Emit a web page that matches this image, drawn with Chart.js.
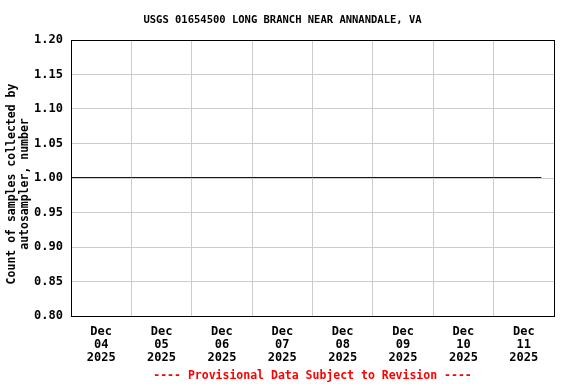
<!DOCTYPE html>
<html>
<head>
<meta charset="utf-8">
<script src="https://cdn.jsdelivr.net/npm/chart.js@4"></script>
<style>
html,body{margin:0;padding:0;background:#fff;}
#wrap{width:576px;height:384px;}
</style>
</head>
<body>
<div id="wrap"><canvas id="c" width="576" height="384"></canvas></div>
<script>
// Data (days since Dec 04 2025 00:00)
const sampleTimes = [0, 1, 2, 3, 4, 5, 6, 7, 7.79];
const sampleCounts = [1, 1, 1, 1, 1, 1, 1, 1, 1];
const tickMonth = 'Dec';
const tickDays = ['04', '05', '06', '07', '08', '09', '10', '11'];
const tickYear = '2025';
const yTicks = [0.80, 0.85, 0.90, 0.95, 1.00, 1.05, 1.10, 1.15, 1.20];
const chartTitle = 'USGS 01654500 LONG BRANCH NEAR ANNANDALE, VA';
const yTitle = ['Count of samples collected by', 'autosampler, number'];
const footer = '---- Provisional Data Subject to Revision ----';

const FONT = "'DejaVu Sans Mono', 'Liberation Mono', monospace";

const decorPlugin = {
  id: 'decor',
  beforeDatasetsDraw(chart) {
    chart.ctx.save();
    chart.ctx.translate(0, -0.5);
  },
  afterDatasetsDraw(chart) {
    chart.ctx.restore();
  },
  afterDraw(chart) {
    const a = chart.chartArea, ctx = chart.ctx;
    ctx.save();
    ctx.strokeStyle = '#000';
    ctx.lineWidth = 1;
    ctx.strokeRect(Math.round(a.left) + 0.5, Math.round(a.top) + 0.5,
                   Math.round(a.right - a.left), Math.round(a.bottom - a.top));
    // chart title
    ctx.fillStyle = '#000';
    ctx.textAlign = 'center';
    ctx.textBaseline = 'middle';
    ctx.font = "bold 10.5px " + FONT;
    ctx.fillText(chartTitle, 282.5, 20.5);
    // y axis title (rotated)
    ctx.font = "bold 11.5px " + FONT;
    ctx.translate(0, 184);
    ctx.rotate(-Math.PI / 2);
    ctx.fillText(yTitle[0], 0, 12);
    ctx.fillText(yTitle[1], 0, 25);
    ctx.restore();
  }
};

new Chart(document.getElementById('c'), {
  type: 'line',
  data: {
    datasets: [{
      data: sampleTimes.map((t, i) => ({x: t, y: sampleCounts[i]})),
      borderColor: '#0000cc',
      borderWidth: 1,
      pointRadius: 0,
      fill: false,
      tension: 0
    }]
  },
  options: {
    responsive: false,
    animation: false,
    devicePixelRatio: 1,
    layout: { padding: { left: 0, right: 22, top: 40, bottom: 0 } },
    plugins: {
      legend: { display: false },
      tooltip: { enabled: false },
      title: { display: false }
    },
    scales: {
      x: {
        type: 'linear',
        min: 0,
        max: 8,
        afterBuildTicks(scale) {
          const t = [];
          for (let i = 0; i <= 16; i++) t.push({ value: i / 2 });
          scale.ticks = t;
        },
        afterFit(scale) { scale.height = 68; },
        grid: {
          drawTicks: false,
          color: (c) => (c.tick && Number.isInteger(c.tick.value)) ? '#cccccc' : 'rgba(0,0,0,0)',
          lineWidth: 1
        },
        border: { display: false },
        ticks: {
          autoSkip: false,
          maxRotation: 0,
          minRotation: 0,
          padding: 9,
          color: '#000',
          font: { family: FONT, size: 12, weight: 'bold', lineHeight: 1.1 },
          callback: (v) => {
            if (Number.isInteger(v)) return '';
            const i = Math.floor(v);
            return [tickMonth, tickDays[i], tickYear];
          }
        },
        title: {
          display: true,
          text: footer,
          color: '#ff0000',
          font: { family: FONT, size: 11.5, weight: 'bold', lineHeight: 1.1 },
          padding: { top: 0, bottom: 2 }
        }
      },
      y: {
        min: 0.8,
        max: 1.2,
        afterBuildTicks(scale) {
          scale.ticks = yTicks.map(v => ({ value: v }));
        },
        afterFit(scale) { scale.width = 71; },
        grid: { drawTicks: false, color: '#cccccc', lineWidth: 1 },
        border: { display: false },
        ticks: {
          padding: 8,
          color: '#000',
          font: { family: FONT, size: 12, weight: 'bold' },
          callback: (v) => Number(v).toFixed(2)
        },
        title: { display: false }
      }
    }
  },
  plugins: [decorPlugin]
});
</script>
</body>
</html>
